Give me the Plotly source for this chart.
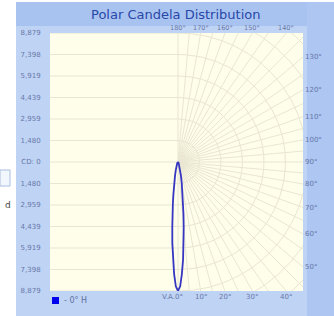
import numpy as np
import plotly.graph_objects as go

# ---- data ----
angles = [0, 1, 2, 3, 4, 5, 6, 7, 8, 10, 12, 15, 20, 25, 30, 40, 50, 60, 70, 80, 90]
candela = [8879, 8560, 7700, 6700, 5600, 4500, 3600, 2900, 2300, 1500, 1000, 600,
           300, 180, 120, 60, 30, 15, 8, 3, 0]
series_name = "- 0° H"
max_cd = 8879
ytick_labels = ["8,879", "7,398", "5,919", "4,439", "2,959", "1,480", "CD: 0",
                "1,480", "2,959", "4,439", "5,919", "7,398", "8,879"]
right_angles = [50, 60, 70, 80, 90, 100, 110, 120, 130]
top_angles = [180, 170, 160, 150, 140]
bottom_angles = [0, 10, 20, 30, 40]
title_text = "Polar Candela Distribution"

# ---- geometry ----
W, H = 334, 316
PL, PR, PT, PB = 50, 303, 33, 291
CX = 178
scale = 2 * max_cd / (PB - PT)
X_MIN = -(CX - PL) * scale
X_MAX = (PR - CX) * scale
Y_MIN, Y_MAX = -max_cd, max_cd
step = max_cd / 6
LOBE_COLOR = "#3636c2"

fig = go.Figure()

GRID = "#e9e6d2"
# grid: left half horizontal lines
gx, gy = [], []
for i in range(-6, 7):
    gx += [X_MIN, 0, None]
    gy += [i * step, i * step, None]
fig.add_trace(go.Scatter(x=gx, y=gy, mode="lines", line=dict(color=GRID, width=1),
                         hoverinfo="skip", showlegend=False))

# grid: right half circles
cx_, cy_ = [], []
t = np.radians(np.linspace(0, 180, 181))
for k in range(1, 10):
    r = k * step
    cx_ += list(r * np.sin(t)) + [None]
    cy_ += list(-r * np.cos(t)) + [None]
fig.add_trace(go.Scatter(x=cx_, y=cy_, mode="lines", line=dict(color=GRID, width=1),
                         hoverinfo="skip", showlegend=False))

# grid: radial lines
rx, ry = [], []
R = 20000
for a in range(0, 181, 5):
    th = np.radians(a)
    rx += [0, R * np.sin(th), None]
    ry += [0, -R * np.cos(th), None]
fig.add_trace(go.Scatter(x=rx, y=ry, mode="lines", line=dict(color=GRID, width=1),
                         hoverinfo="skip", showlegend=False))

# lobe
ang_full = [-a for a in angles[::-1]] + angles[1:]
cd_full = candela[::-1] + candela[1:]
th = np.radians(ang_full)
lx = np.array(cd_full) * np.sin(th)
ly = -np.array(cd_full) * np.cos(th)
fig.add_trace(go.Scatter(x=lx, y=ly, mode="lines", line=dict(color=LOBE_COLOR, width=1.8),
                         name=series_name, showlegend=False, hoverinfo="skip"))

lab_font = dict(family="DejaVu Sans", size=7, color="#6878a8")
ann = []
for a in right_angles:
    thr = np.radians(a)
    yv = -X_MAX * np.cos(thr) / np.sin(thr)
    ann.append(dict(x=1.0, xref="x domain", y=yv, yref="y", text=f"{a}°", showarrow=False,
                    xanchor="left", yanchor="middle", xshift=1, font=lab_font, borderpad=0))
for a in top_angles:
    thr = np.radians(a)
    xv = -Y_MAX * np.sin(thr) / np.cos(thr)
    ann.append(dict(x=xv, xref="x", y=1.0, yref="y domain", text=f"{a}°", showarrow=False,
                    xanchor="center", yanchor="bottom", yshift=0,
                    font=dict(family="DejaVu Sans", size=6.5, color="#6878a8"), borderpad=0))
for a in bottom_angles:
    thr = np.radians(a)
    xv = Y_MAX * np.sin(thr) / np.cos(thr)
    txt = f"V.A.{a}°" if a == 0 else f"{a}°"
    ann.append(dict(x=xv, xref="x", y=0.0, yref="y domain", text=txt, showarrow=False,
                    yanchor="top", yshift=-1, xanchor="right" if a == 0 else "center",
                    xshift=6 if a == 0 else 0, font=lab_font, borderpad=0))
ann.append(dict(x=0.525, xref="paper", y=(H - 14) / H, yref="paper", text=title_text,
                xanchor="center", yanchor="middle",
                showarrow=False, font=dict(family="DejaVu Sans", size=13, color="#2848a8")))
ann.append(dict(x=3 / W, xref="paper", y=(H - 205) / H, yref="paper", text="d",
                xanchor="left", yanchor="middle",
                showarrow=False, font=dict(family="DejaVu Sans", size=9, color="#444")))
# legend (manual)
ann.append(dict(x=62 / W, xref="paper", y=(H - 300) / H, yref="paper", text=series_name,
                xanchor="left", yanchor="middle", showarrow=False,
                font=dict(family="DejaVu Sans", size=8, color="#6070a0")))

shapes = [
    dict(type="rect", xref="paper", yref="paper", x0=0, x1=16 / W, y0=0, y1=1,
         fillcolor="white", line=dict(width=0), layer="below"),
    dict(type="rect", xref="paper", yref="paper", x0=0, x1=1, y0=(H - 2) / H, y1=1,
         fillcolor="white", line=dict(width=0), layer="below"),
    dict(type="rect", xref="paper", yref="paper", x0=16 / W, x1=1, y0=(H - 26) / H, y1=(H - 2) / H,
         fillcolor="#a9c3f1", line=dict(width=0), layer="below"),
    dict(type="rect", xref="paper", yref="paper", x0=(PR + 4) / W, x1=1, y0=0, y1=(H - 2) / H,
         fillcolor="#adc6f2", line=dict(width=0), layer="below"),
    dict(type="rect", xref="paper", yref="paper", x0=0, x1=10 / W, y0=(H - 186) / H, y1=(H - 170) / H,
         fillcolor="#f2f6fd", line=dict(width=1, color="#a8bde0"), layer="below"),
    # legend swatch
    dict(type="rect", xref="paper", yref="paper", x0=52 / W, x1=59 / W, y0=(H - 304) / H, y1=(H - 297) / H,
         fillcolor="#0000ee", line=dict(width=0)),
]

fig.update_layout(
    width=W, height=H, margin=dict(l=0, r=0, t=0, b=0, autoexpand=False),
    paper_bgcolor="#bfd3f5", plot_bgcolor="#fefeea",
    xaxis=dict(domain=[PL / W, PR / W], range=[X_MIN, X_MAX], showgrid=False, zeroline=False,
               showticklabels=False, fixedrange=True, automargin=False),
    yaxis=dict(domain=[(H - PB) / H, (H - PT) / H], range=[Y_MIN, Y_MAX], showgrid=False,
               zeroline=False, tickvals=[i * step for i in range(6, -7, -1)],
               ticktext=ytick_labels, tickfont=lab_font, ticks="outside", ticklen=7,
               tickcolor="rgba(0,0,0,0)", fixedrange=True, automargin=False),
    showlegend=False,
    annotations=ann, shapes=shapes,
)

fig.write_html("out.html", config={"displayModeBar": False},
               post_script="document.body.style.margin='0';document.body.style.overflow='hidden';"
                           "document.body.style.background='#bfd3f5';")
